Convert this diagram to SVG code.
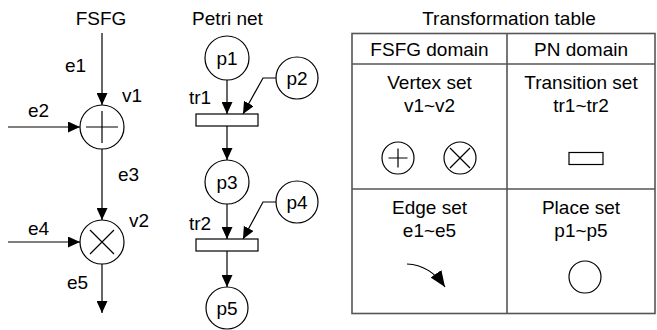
<svg xmlns="http://www.w3.org/2000/svg" width="657" height="330" viewBox="0 0 657 330">
<style>
text{font-family:"Liberation Sans",Arial,sans-serif;font-size:19px;fill:#000}
.c{text-anchor:middle}
.n{fill:#fff;stroke:#000;stroke-width:1.2}
.s{fill:none;stroke:#000;stroke-width:1.2}
.e{fill:none;stroke:#000;stroke-width:1.2;marker-end:url(#ah)}
.t{fill:none;stroke:#555;stroke-width:1.6}
</style>
<defs>
<marker id="ah" markerUnits="userSpaceOnUse" markerWidth="12" markerHeight="11" refX="12" refY="5.5" orient="auto"><path d="M0,0 L12,5.5 L0,11 z" fill="#000"/></marker>
<marker id="ahb" markerUnits="userSpaceOnUse" markerWidth="16" markerHeight="13" refX="16" refY="6.5" orient="auto"><path d="M0,0 L16,6.5 L0,13 z" fill="#000"/></marker>
</defs>
<g id="titles">
<text class="c" x="101" y="25">FSFG</text>
<text class="c" x="227.5" y="25">Petri net</text>
<text class="c" x="509" y="25">Transformation table</text>
</g>
<g id="connectors">
<line class="e" x1="102" y1="33" x2="102" y2="105"/>
<line class="e" x1="8" y1="127" x2="80" y2="127"/>
<line class="e" x1="102" y1="149" x2="102" y2="220"/>
<line class="e" x1="8" y1="242" x2="80" y2="242"/>
<line class="e" x1="102" y1="264" x2="102" y2="313"/>
<line class="e" x1="227" y1="80" x2="227" y2="114"/>
<polyline class="e" points="276,78 263,78 243,114"/>
<line class="e" x1="227" y1="126" x2="227" y2="160"/>
<line class="e" x1="227" y1="204" x2="227" y2="239"/>
<polyline class="e" points="276,202 263,202 243,239"/>
<line class="e" x1="227" y1="251" x2="227" y2="287"/>
<text x="65" y="72">e1</text>
<text x="28" y="117">e2</text>
<text x="118" y="181">e3</text>
<text x="28" y="235">e4</text>
<text x="67" y="289">e5</text>
</g>
<g id="v1">
<circle class="n" cx="102" cy="127" r="22"/>
<path class="s" d="M86,127 H118 M102,111 V143"/>
<text x="122" y="102">v1</text>
</g>
<g id="v2">
<circle class="n" cx="102" cy="242" r="22"/>
<path class="s" d="M90,230 L114,254 M114,230 L90,254"/>
<text x="129" y="227">v2</text>
</g>
<g id="p1"><circle class="n" cx="227" cy="58" r="22"/><text class="c" x="227" y="65">p1</text></g>
<g id="p2"><circle class="n" cx="297" cy="78" r="21"/><text class="c" x="297" y="85">p2</text></g>
<g id="tr1"><rect class="n" x="196" y="114" width="62" height="12"/><text x="189" y="104">tr1</text></g>
<g id="p3"><circle class="n" cx="227" cy="182" r="22"/><text class="c" x="227" y="189">p3</text></g>
<g id="p4"><circle class="n" cx="297" cy="202" r="21"/><text class="c" x="297" y="209">p4</text></g>
<g id="tr2"><rect class="n" x="196" y="239" width="62" height="12"/><text x="189" y="230">tr2</text></g>
<g id="p5"><circle class="n" cx="227" cy="308" r="21"/><text class="c" x="227" y="315">p5</text></g>
<g id="table">
<rect class="t" x="352" y="33.5" width="303" height="280"/>
<line class="t" x1="352" y1="64" x2="655" y2="64"/>
<line class="t" x1="352" y1="189" x2="655" y2="189"/>
<line class="t" x1="507" y1="33.5" x2="507" y2="313.5"/>
<text class="c" x="429.5" y="56">FSFG domain</text>
<text class="c" x="581" y="56">PN domain</text>
<text class="c" x="429.5" y="89">Vertex set</text>
<text class="c" x="429.5" y="112">v1~v2</text>
<text class="c" x="581" y="89">Transition set</text>
<text class="c" x="581" y="112">tr1~tr2</text>
<circle class="n" cx="398" cy="158" r="16"/>
<path class="s" d="M388.5,158 H407.5 M398,148.5 V167.5"/>
<circle class="n" cx="460" cy="158" r="16"/>
<path class="s" d="M450,148 L470,168 M470,148 L450,168"/>
<rect class="n" x="569" y="152.5" width="34" height="12"/>
<text class="c" x="429.5" y="214">Edge set</text>
<text class="c" x="429.5" y="237">e1~e5</text>
<text class="c" x="581" y="214">Place set</text>
<text class="c" x="581" y="237">p1~p5</text>
<path class="s" d="M407,264 Q430,265 445,287" marker-end="url(#ahb)"/>
<circle class="n" cx="585" cy="277" r="16"/>
</g>
</svg>
